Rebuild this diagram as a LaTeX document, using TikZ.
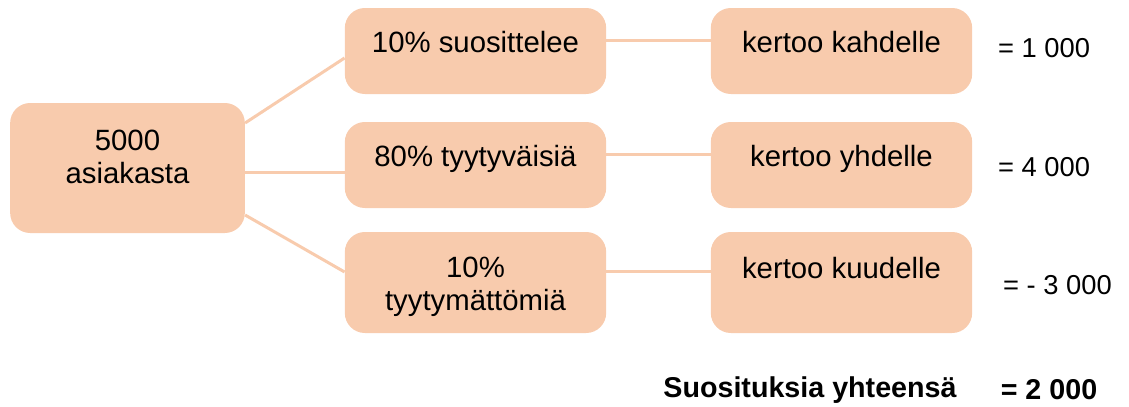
\documentclass[tikz,border=0pt]{standalone}
\usepackage{fontspec}
\setmainfont{Liberation Sans}
\usepackage{tikz}
\usetikzlibrary{positioning}
\usepackage{xcolor}
\definecolor{peach}{HTML}{F8CBAD}

\begin{document}
\begin{tikzpicture}[
    x=0.75pt, y=-0.75pt,
    box/.style={fill=peach, rounded corners=15pt, inner sep=0pt, align=center, font=\fontsize{22}{25}\selectfont},
    midbox/.style={box, minimum width=196pt, minimum height=64.5pt, text height=16pt, text depth=14pt},
    val/.style={font=\fontsize{20.5}{24}\selectfont},
    link/.style={draw=peach, line width=2.25pt}
]
    \useasboundingbox (0,0) rectangle (1129,407);
    \node[box, minimum width=176pt, minimum height=97.5pt, text height=28pt, text depth=5pt] (cust) at (127.5,168) {5000\\asiakasta};
    \node[midbox] (p1) at (475.5,51) {10\% suosittelee};
    \node[midbox] (p2) at (475.5,165) {80\% tyytyväisiä};
    \node[box, minimum width=196pt, minimum height=75.75pt, text height=47pt, text depth=5pt] (p3) at (475.5,282.5) {10\%\\tyytymättömiä};
    \node[midbox] (t1) at (841.5,51) {kertoo kahdelle};
    \node[midbox] (t2) at (841.5,165) {kertoo yhdelle};
    \node[midbox, minimum height=75.75pt, text depth=22pt] (t3) at (841.5,282.5) {kertoo kuudelle};
    \node[val] (v1) at (1044,48) {= 1 000};
    \node[val] (v2) at (1044,167) {= 4 000};
    \node[val] (v3) at (1057.5,285) {= - 3 000};
    \node[font=\fontsize{21.5}{25}\selectfont\bfseries] (sum) at (810,390) {Suosituksia yhteensä};
    \node[font=\fontsize{21.5}{25}\selectfont\bfseries] (total) at (1049,390) {= 2 000};

    \draw[link] ([yshift=33.75pt]cust.east) -- ([yshift=-5.25pt]p1.west);
    \draw[link] ([yshift=-3pt]cust.east) -- ([yshift=-5.25pt]p2.west);
    \draw[link] ([yshift=-35.25pt]cust.east) -- ([yshift=7.9pt]p3.west);
    \draw[link] ([yshift=8.25pt]p1.east) -- ([yshift=8.25pt]t1.west);
    \draw[link] ([yshift=8.25pt]p2.east) -- ([yshift=8.25pt]t2.west);
    \draw[link] ([yshift=8.6pt]p3.east) -- ([yshift=8.6pt]t3.west);
\end{tikzpicture}
\end{document}
